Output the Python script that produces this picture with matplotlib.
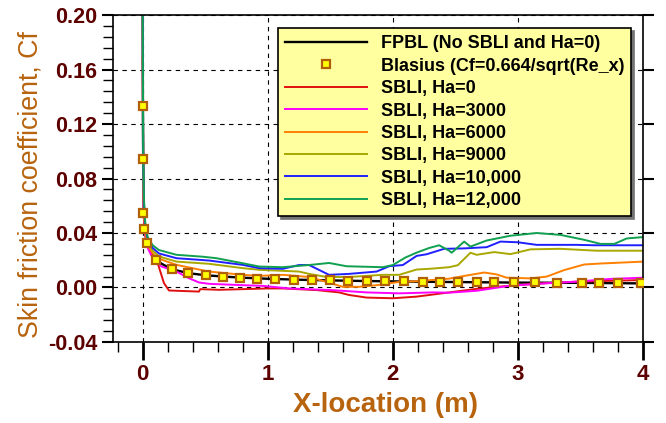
import numpy as np
import matplotlib
matplotlib.use("Agg")
import matplotlib.pyplot as plt
from matplotlib.ticker import MultipleLocator, FormatStrFormatter

plt.rcParams["font.family"] = ["Liberation Sans", "DejaVu Sans"]

# ---- data ----
fpbl_x = [0.0, 0.002, 0.005, 0.01, 0.02, 0.04, 0.07, 0.1, 0.15, 0.23, 0.36, 0.5, 0.65,
          0.8, 1.0, 1.25, 1.5, 1.75, 2.0, 2.25, 2.5, 2.75, 3.0, 3.25, 3.5, 3.75, 4.0]
fpbl_y = [0.20, 0.12, 0.075, 0.052, 0.040, 0.031, 0.025, 0.021, 0.0175, 0.0135, 0.0106,
          0.009, 0.008, 0.0072, 0.0064, 0.0057, 0.0052, 0.0048, 0.0045, 0.0042, 0.004,
          0.0038, 0.0036, 0.0035, 0.0034, 0.0032, 0.003]

blasius_x = [0.0, 0.001, 0.005, 0.013, 0.037, 0.104, 0.232, 0.365, 0.505, 0.645, 0.78,
             0.915, 1.06, 1.21, 1.35, 1.50, 1.64, 1.79, 1.94, 2.09, 2.24, 2.38, 2.52,
             2.67, 2.81, 2.97, 3.14, 3.31, 3.51, 3.65, 3.80, 3.98]
blasius_y = [0.133, 0.094, 0.055, 0.043, 0.0325, 0.020, 0.0136, 0.0106, 0.009, 0.0079,
             0.0072, 0.0066, 0.0062, 0.0058, 0.0055, 0.0052, 0.005, 0.0048, 0.0046,
             0.0045, 0.0043, 0.0042, 0.0041, 0.004, 0.0039, 0.0038, 0.0037, 0.0036,
             0.0035, 0.0034, 0.0033, 0.0033]

ha0_x = [0.0, 0.003, 0.01, 0.02, 0.04, 0.08, 0.12, 0.17, 0.21, 0.45, 0.46, 0.61, 1.0,
         1.12, 1.39, 1.57, 1.65, 1.79, 2.0, 2.19, 2.35, 2.45, 2.67, 2.94, 3.21, 3.47, 4.0]
ha0_y = [0.17, 0.08, 0.05, 0.038, 0.030, 0.022, 0.0178, 0.0032, -0.0022, -0.003, -0.0012,
         -0.0017, -0.0007, -0.0007, -0.0019, -0.0036, -0.0055, -0.0074, -0.0079, -0.0067,
         -0.0048, -0.0036, -0.001, 0.0014, 0.0031, 0.0043, 0.0055]

ha3000_x = [0.0, 0.004, 0.01, 0.02, 0.04, 0.08, 0.15, 0.27, 0.37, 0.45, 0.53, 0.8, 0.96,
            1.17, 1.51, 1.79, 2.05, 2.32, 2.45, 2.67, 2.94, 3.21, 3.47, 3.74, 4.0]
ha3000_y = [0.20, 0.08, 0.052, 0.039, 0.029, 0.0215, 0.0154, 0.0117, 0.0068, 0.0037,
            0.0027, 0.0017, 0.0012, -0.0007, -0.0019, -0.0036, -0.0043, -0.0036, -0.0038,
            -0.0024, 0.0014, 0.003, 0.0043, 0.0063, 0.0072]

ha6000_x = [0.0, 0.004, 0.01, 0.02, 0.04, 0.08, 0.12, 0.27, 0.53, 0.8, 0.93, 1.12, 1.33,
            1.47, 1.6, 1.73, 1.87, 2.05, 2.19, 2.45, 2.54, 2.73, 2.83, 2.91, 3.1, 3.23,
            3.37, 3.53, 3.66, 4.0]
ha6000_y = [0.20, 0.085, 0.055, 0.041, 0.031, 0.025, 0.0215, 0.0166, 0.0117, 0.0093,
            0.0085, 0.0093, 0.0077, 0.0041, 0.0005, 0.0005, 0.0017, 0.0041, 0.0046,
            0.0065, 0.008, 0.011, 0.0096, 0.0072, 0.0067, 0.008, 0.0128, 0.0169, 0.0176,
            0.019]

ha9000_x = [0.0, 0.004, 0.01, 0.02, 0.04, 0.08, 0.13, 0.27, 0.53, 0.8, 0.93, 1.25, 1.33,
            1.47, 1.65, 1.92, 2.05, 2.19, 2.29, 2.45, 2.52, 2.62, 2.67, 2.81, 2.94, 3.1,
            3.34, 3.63, 4.0]
ha9000_y = [0.20, 0.09, 0.06, 0.044, 0.033, 0.027, 0.0228, 0.019, 0.0174, 0.0142, 0.013,
            0.0117, 0.010, 0.0077, 0.0077, 0.0093, 0.0093, 0.0132, 0.0137, 0.0149, 0.0164,
            0.0255, 0.024, 0.026, 0.0245, 0.028, 0.0284, 0.027, 0.027]

ha10000_x = [0.0, 0.004, 0.01, 0.02, 0.04, 0.08, 0.13, 0.27, 0.53, 0.8, 0.93, 1.12, 1.25,
             1.33, 1.49, 1.65, 1.87, 1.97, 2.08, 2.19, 2.27, 2.41, 2.57, 2.75, 2.86, 3.0,
             3.15, 3.47, 3.61, 4.0]
ha10000_y = [0.20, 0.095, 0.062, 0.046, 0.035, 0.029, 0.025, 0.0215, 0.0198, 0.0166,
             0.0142, 0.0137, 0.0165, 0.0165, 0.0093, 0.010, 0.0117, 0.0156, 0.0165, 0.0232,
             0.0244, 0.0284, 0.0287, 0.0296, 0.0337, 0.0332, 0.0313, 0.0313, 0.031, 0.031]

ha12000_x = [0.0, 0.004, 0.01, 0.02, 0.04, 0.08, 0.13, 0.27, 0.48, 0.59, 0.8, 0.93, 1.12,
             1.33, 1.49, 1.63, 1.92, 2.0, 2.1, 2.19, 2.29, 2.37, 2.45, 2.47, 2.57, 2.62,
             2.75, 2.94, 3.15, 3.34, 3.53, 3.66, 3.77, 3.87, 4.0]
ha12000_y = [0.20, 0.10, 0.065, 0.048, 0.037, 0.031, 0.0275, 0.024, 0.0226, 0.0215,
             0.0178, 0.0154, 0.0149, 0.0165, 0.018, 0.0156, 0.0149, 0.0165, 0.022, 0.0256,
             0.029, 0.031, 0.027, 0.0255, 0.0337, 0.030, 0.0345, 0.038, 0.040, 0.0386,
             0.035, 0.032, 0.032, 0.036, 0.037]

TICK_COLOR = "#5c0000"
LABEL_COLOR = "#b8640f"

fig = plt.figure(figsize=(6.66, 4.23), dpi=100)
ax = fig.add_axes([0.1692, 0.1915, 0.7963, 0.773])

ax.grid(True, which="major", color="black", linestyle=(0, (4, 4)), linewidth=0.8)
ax.set_axisbelow(True)

lw = 1.4
ax.plot(fpbl_x, fpbl_y, color="black", lw=1.7, label="FPBL (No SBLI and Ha=0)")
ax.plot(blasius_x, blasius_y, linestyle="none", marker="s", markersize=5.5,
        markerfacecolor="#ffff00", markeredgecolor="#b25f0a", markeredgewidth=1.6,
        label="Blasius (Cf=0.664/sqrt(Re_x)", zorder=5)
ax.plot(ha0_x, ha0_y, color="#e01010", lw=lw, label="SBLI, Ha=0")
ax.plot(ha3000_x, ha3000_y, color="#ff00ff", lw=lw, label="SBLI, Ha=3000")
ax.plot(ha6000_x, ha6000_y, color="#ff8000", lw=lw, label="SBLI, Ha=6000")
ax.plot(ha9000_x, ha9000_y, color="#a8a800", lw=lw, label="SBLI, Ha=9000")
ax.plot(ha10000_x, ha10000_y, color="#2020ff", lw=lw, label="SBLI, Ha=10,000")
ax.plot(ha12000_x, ha12000_y, color="#10a050", lw=lw, label="SBLI, Ha=12,000")

ax.set_xlim(-0.24, 4.0)
ax.set_ylim(-0.04, 0.20)
ax.xaxis.set_major_locator(MultipleLocator(1))
ax.xaxis.set_minor_locator(MultipleLocator(0.2))
ax.yaxis.set_major_locator(MultipleLocator(0.04))
ax.yaxis.set_minor_locator(MultipleLocator(0.008))
ax.yaxis.set_major_formatter(FormatStrFormatter("%.2f"))

ax.tick_params(axis="x", which="major", direction="out", length=13, width=2,
               pad=3, labelsize=16, labelcolor=TICK_COLOR)
ax.tick_params(axis="x", which="minor", direction="out", length=7, width=1)
ax.tick_params(axis="y", which="major", direction="out", length=8, width=1.5,
               pad=3, labelsize=15.5, labelcolor=TICK_COLOR, right=True)
ax.tick_params(axis="y", which="minor", direction="out", length=7, width=1)
for lab in ax.get_xticklabels() + ax.get_yticklabels():
    lab.set_fontweight("bold")
for sp in ax.spines.values():
    sp.set_linewidth(1.2)

ax.set_xlabel("X-location (m)", fontsize=20, fontweight="bold", color=LABEL_COLOR)
ax.set_ylabel("Skin friction coefficient, Cf", fontsize=19.3, color=LABEL_COLOR)
ax.xaxis.set_label_coords(0.515, -0.153)
ax.yaxis.set_label_coords(-0.131, 0.48)

leg = ax.legend(loc="upper left", bbox_to_anchor=(0.312, 0.96), borderaxespad=0,
                prop={"weight": "bold", "size": 13}, handlelength=4.5,
                labelspacing=0.3, borderpad=0.4, handletextpad=0.78,
                fancybox=False, framealpha=1, facecolor="#ffffa0",
                edgecolor="black", shadow={"color": "0.45", "alpha": 1})
leg.get_frame().set_linewidth(1.2)

fig.savefig("out.png", dpi=100)
